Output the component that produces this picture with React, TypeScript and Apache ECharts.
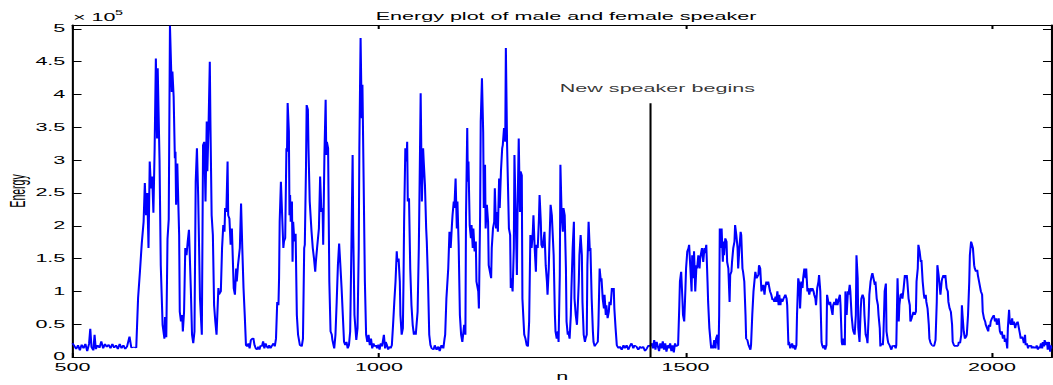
import React, { useEffect, useRef } from "react";
import * as echarts from "echarts";

// Frame energy per sample index n, in units of 1e5.
const maleSpeaker: [number, number][] = [
  [500, 0.21], [503, 0.17], [506, 0.12], [509, 0.18], [512, 0.1], [515, 0.19], [518, 0.13], [521, 0.2], [524, 0.09], [527, 0.2],
  [529, 0.43], [531, 0.15], [534, 0.1], [536, 0.34], [538, 0.12], [541, 0.18], [544, 0.14], [547, 0.24], [550, 0.13], [553, 0.2],
  [556, 0.15], [559, 0.19], [562, 0.13], [565, 0.2], [568, 0.14], [571, 0.18], [574, 0.12], [577, 0.2], [580, 0.13], [583, 0.18],
  [586, 0.12], [589, 0.16], [593, 0.31], [596, 0.14], [600, 0.15], [604, 0.14], [607, 0.9], [610, 1.3], [613, 1.73], [616, 2.06],
  [618, 2.65], [620, 2.16], [622, 2.5], [624, 1.66], [626, 2.98], [628, 2.57], [630, 2.75], [632, 2.2], [634, 3.18], [636, 4.55],
  [638, 3.33], [639, 4.4], [642, 3.0], [644, 1.4], [647, 0.49], [650, 0.28], [651, 0.61], [653, 0.3], [655, 1.8], [657, 2.1],
  [659, 5.05], [662, 4.04], [663, 4.35], [665, 3.97], [667, 3.03], [668, 3.13], [669, 2.32], [671, 2.95], [672, 2.57], [674, 1.86],
  [675, 0.69], [677, 0.54], [679, 0.64], [680, 0.39], [682, 0.69], [684, 1.66], [686, 1.55], [688, 1.76], [690, 1.94], [693, 1.05],
  [695, 0.34], [697, 0.21], [699, 0.39], [701, 2.67], [703, 3.18], [705, 2.47], [708, 0.89], [711, 0.34], [713, 3.23], [715, 3.28],
  [717, 2.37], [719, 3.59], [720, 2.83], [722, 3.54], [724, 4.5], [725, 3.59], [727, 2.16], [729, 1.86], [731, 0.79], [733, 0.54],
  [735, 0.34], [738, 1.05], [739, 0.95], [742, 1.0], [744, 1.66], [746, 2.01], [748, 1.91], [749, 2.27], [751, 2.21], [753, 2.98],
  [754, 2.16], [756, 2.11], [758, 1.71], [760, 1.96], [761, 1.66], [763, 1.05], [765, 0.95], [767, 1.35], [768, 1.15], [770, 1.4],
  [773, 1.66], [775, 2.34], [777, 1.66], [779, 1.05], [781, 0.64], [783, 0.18], [785, 0.16], [787, 0.21], [789, 0.13], [791, 0.26],
  [793, 0.28], [795, 0.29], [797, 0.18], [799, 0.13], [801, 0.11], [803, 0.16], [805, 0.11], [807, 0.18], [809, 0.16], [811, 0.24],
  [813, 0.13], [815, 0.21], [817, 0.16], [819, 0.13], [821, 0.18], [823, 0.13], [826, 0.18], [828, 0.21], [830, 0.16], [832, 0.28],
  [834, 0.84], [836, 0.79], [837, 1.2], [838, 2.06], [840, 2.67], [842, 2.67], [844, 1.66], [845, 1.76], [847, 1.81], [849, 3.18],
  [850, 3.13], [851, 3.87], [853, 3.44], [854, 2.16], [855, 2.47], [856, 2.06], [858, 2.37], [859, 1.45], [860, 2.06], [862, 1.76],
  [864, 1.88], [866, 0.64], [868, 0.34], [871, 0.18], [874, 0.16], [876, 0.28], [878, 1.66], [879, 1.71], [881, 2.93], [882, 3.84],
  [884, 3.77], [885, 3.18], [887, 2.37], [890, 1.91], [892, 1.66], [894, 1.5], [896, 1.3], [897, 1.45], [899, 1.66], [902, 1.96],
  [904, 2.75], [906, 2.21], [908, 2.27], [909, 1.71], [911, 3.08], [913, 3.92], [914, 3.08], [915, 3.28], [917, 3.18], [919, 1.15],
  [921, 0.39], [923, 0.34], [924, 0.26], [927, 0.13], [929, 0.34], [931, 0.84], [933, 1.4], [935, 1.73], [937, 1.4], [939, 1.05],
  [941, 0.64], [943, 0.23], [945, 0.18], [947, 0.23], [949, 0.13], [951, 0.18], [953, 0.39], [955, 1.66], [957, 3.08], [958, 1.91],
  [960, 0.64], [963, 0.26], [965, 0.44], [967, 1.66], [968, 3.18], [970, 4.86], [971, 4.2], [972, 3.64], [973, 4.15], [975, 2.67],
  [977, 1.15], [979, 0.34], [981, 0.23], [983, 0.34], [985, 0.18], [987, 0.28], [989, 0.13], [991, 0.21], [993, 0.16], [995, 0.18],
  [997, 0.13], [999, 0.19], [1001, 0.11], [1003, 0.21], [1005, 0.16], [1008, 0.34], [1010, 0.13], [1011, 0.23], [1013, 0.18], [1015, 0.11],
  [1017, 0.16], [1019, 0.13], [1021, 0.18], [1023, 0.49], [1025, 0.84], [1027, 1.15], [1029, 1.61], [1030, 1.45], [1032, 1.5], [1034, 1.15],
  [1035, 0.64], [1037, 0.34], [1039, 0.44], [1040, 1.15], [1041, 2.06], [1043, 3.18], [1045, 2.98], [1046, 3.28], [1047, 2.37], [1049, 2.42],
  [1051, 1.35], [1053, 0.79], [1055, 0.49], [1057, 0.34], [1059, 0.39], [1060, 0.34], [1063, 0.69], [1065, 1.66], [1067, 3.18], [1068, 4.02],
  [1070, 2.37], [1072, 3.18], [1073, 2.98], [1075, 2.62], [1077, 1.96], [1078, 1.76], [1080, 1.15], [1082, 0.34], [1084, 0.18], [1086, 0.13],
  [1089, 0.11], [1091, 0.18], [1094, 0.11], [1097, 0.16], [1099, 0.09], [1102, 0.18], [1105, 0.13], [1107, 0.28], [1108, 0.34], [1110, 0.89],
  [1113, 1.35], [1115, 1.91], [1117, 1.66], [1119, 2.01], [1120, 2.16], [1122, 2.37], [1123, 2.27], [1125, 2.72], [1127, 1.96], [1128, 2.37],
  [1130, 1.71], [1132, 0.64], [1134, 0.34], [1136, 0.23], [1139, 0.49], [1141, 0.34], [1142, 2.16], [1144, 3.49], [1145, 2.67], [1146, 2.98],
  [1148, 2.01], [1150, 1.81], [1151, 2.01], [1153, 1.66], [1154, 1.96], [1156, 1.61], [1158, 1.76], [1159, 1.15], [1162, 1.0], [1163, 0.74],
  [1165, 2.16], [1166, 3.59], [1168, 4.25], [1170, 3.43], [1171, 2.27], [1173, 2.93], [1174, 1.96], [1176, 2.32], [1178, 2.06], [1179, 1.4],
  [1181, 1.3], [1183, 1.2], [1184, 1.66], [1186, 1.96], [1188, 2.06], [1189, 2.57], [1191, 1.96], [1192, 2.21], [1194, 1.91], [1196, 2.72],
  [1197, 2.27], [1199, 2.83], [1201, 3.18], [1202, 3.23], [1204, 3.49], [1206, 3.28], [1207, 4.71], [1209, 3.23], [1210, 3.23], [1212, 1.96],
  [1214, 1.86], [1215, 1.05], [1216, 1.2], [1218, 1.0], [1220, 1.66], [1221, 3.08], [1223, 2.16], [1225, 1.25], [1226, 2.16], [1228, 3.33],
  [1230, 2.21], [1231, 2.83], [1233, 2.77], [1234, 0.89], [1237, 0.34], [1239, 0.28], [1241, 0.18], [1243, 0.16], [1245, 0.54], [1247, 1.86],
  [1249, 1.66], [1251, 1.91], [1252, 2.16], [1254, 1.66], [1256, 1.3], [1257, 1.71], [1259, 1.66], [1261, 2.11], [1262, 2.47], [1264, 2.06],
  [1265, 1.71], [1267, 1.66], [1269, 1.66], [1270, 1.91], [1272, 1.4], [1274, 1.15], [1275, 0.95], [1277, 1.35], [1278, 1.71], [1280, 2.32],
  [1282, 2.16], [1283, 1.96], [1285, 1.55], [1287, 0.64], [1288, 0.39], [1290, 0.28], [1292, 0.39], [1293, 0.23], [1295, 1.25], [1296, 2.93],
  [1298, 2.16], [1300, 1.91], [1301, 2.27], [1303, 2.16], [1305, 1.35], [1306, 0.54], [1308, 0.34], [1309, 0.39], [1311, 0.28], [1313, 0.64],
  [1314, 1.05], [1316, 1.66], [1318, 2.06], [1319, 0.89], [1321, 0.64], [1323, 0.49], [1324, 0.69], [1326, 1.15], [1327, 1.55], [1329, 1.86],
  [1331, 1.55], [1332, 0.84], [1334, 0.34], [1336, 0.23], [1337, 0.28], [1339, 0.34], [1340, 1.4], [1342, 2.06], [1344, 1.61], [1345, 1.66],
  [1347, 0.89], [1349, 0.39], [1350, 0.23], [1352, 0.16], [1353, 0.18], [1355, 0.18], [1357, 0.23], [1358, 0.49], [1360, 1.35], [1362, 1.15],
  [1363, 1.2], [1365, 0.89], [1367, 0.74], [1368, 0.95], [1370, 0.64], [1371, 0.79], [1373, 0.59], [1375, 0.69], [1376, 0.84], [1378, 0.79],
  [1380, 1.05], [1381, 1.0], [1383, 1.05], [1384, 0.74], [1386, 0.44], [1388, 0.18], [1389, 0.16], [1391, 0.13], [1393, 0.16], [1396, 0.11],
  [1399, 0.18], [1401, 0.13], [1404, 0.18], [1407, 0.11], [1409, 0.16], [1412, 0.21], [1415, 0.13], [1417, 0.18], [1420, 0.16], [1423, 0.11],
  [1426, 0.16], [1428, 0.13], [1431, 0.16], [1434, 0.09], [1437, 0.13], [1440, 0.18], [1442, 0.16],
];

const femaleSpeaker: [number, number][] = [
  [1445, 0.21], [1447, 0.13], [1449, 0.26], [1451, 0.11], [1453, 0.23], [1455, 0.16], [1457, 0.09], [1459, 0.21], [1461, 0.13], [1463, 0.24],
  [1465, 0.11], [1467, 0.21], [1469, 0.08], [1471, 0.18], [1473, 0.13], [1475, 0.21], [1477, 0.09], [1479, 0.18], [1481, 0.07], [1483, 0.21],
  [1485, 0.16], [1488, 0.18], [1490, 0.79], [1491, 1.15], [1493, 1.3], [1495, 0.89], [1496, 0.64], [1498, 0.54], [1500, 1.05], [1501, 1.35],
  [1503, 1.61], [1505, 1.66], [1506, 1.71], [1508, 1.71], [1510, 1.0], [1511, 1.55], [1513, 1.2], [1514, 1.61], [1516, 1.0], [1518, 1.4],
  [1519, 1.35], [1521, 1.55], [1523, 1.35], [1524, 1.5], [1526, 1.61], [1527, 1.66], [1529, 1.45], [1531, 1.66], [1532, 1.58], [1534, 1.71],
  [1536, 1.15], [1537, 0.84], [1539, 0.44], [1541, 0.23], [1542, 0.13], [1544, 0.18], [1545, 0.13], [1547, 0.26], [1549, 0.13], [1550, 0.28],
  [1552, 0.34], [1554, 0.11], [1555, 0.64], [1556, 1.96], [1558, 1.66], [1559, 1.96], [1561, 1.45], [1562, 1.76], [1563, 1.55], [1565, 1.81],
  [1567, 1.76], [1568, 1.45], [1570, 1.35], [1572, 0.84], [1573, 1.25], [1575, 1.3], [1576, 1.45], [1578, 1.66], [1580, 1.76], [1581, 2.01],
  [1583, 1.86], [1585, 1.66], [1586, 1.35], [1588, 1.66], [1590, 1.91], [1591, 1.86], [1593, 1.35], [1594, 1.3], [1596, 1.15], [1598, 0.64],
  [1599, 0.28], [1601, 0.26], [1603, 0.18], [1604, 0.18], [1606, 0.11], [1607, 0.18], [1609, 0.64], [1611, 1.0], [1612, 1.0], [1614, 1.3],
  [1616, 1.2], [1617, 1.2], [1619, 1.25], [1620, 1.4], [1622, 1.35], [1624, 1.0], [1625, 1.05], [1627, 1.1], [1629, 0.95], [1630, 1.05],
  [1632, 1.15], [1634, 1.1], [1635, 1.15], [1637, 1.05], [1638, 1.0], [1640, 0.95], [1642, 0.87], [1643, 0.89], [1645, 0.84], [1647, 0.92],
  [1648, 0.84], [1650, 1.0], [1652, 0.79], [1653, 0.95], [1655, 0.79], [1656, 0.89], [1658, 0.84], [1660, 0.89], [1661, 0.89], [1663, 0.95],
  [1665, 0.89], [1666, 0.79], [1668, 0.18], [1669, 0.23], [1671, 0.13], [1673, 0.18], [1674, 0.21], [1676, 0.13], [1678, 0.18], [1679, 0.11],
  [1681, 0.18], [1682, 0.64], [1684, 1.2], [1686, 1.1], [1687, 0.74], [1689, 1.15], [1691, 1.05], [1692, 1.2], [1694, 1.35], [1696, 1.2],
  [1697, 1.35], [1699, 1.0], [1700, 1.05], [1702, 0.95], [1704, 1.05], [1705, 1.0], [1707, 1.05], [1709, 1.0], [1710, 0.95], [1712, 0.89],
  [1713, 0.79], [1715, 1.05], [1717, 1.15], [1718, 1.25], [1720, 1.0], [1722, 0.23], [1723, 0.18], [1725, 0.13], [1727, 0.18], [1728, 0.11],
  [1730, 0.18], [1731, 0.95], [1733, 0.84], [1735, 0.79], [1736, 0.84], [1738, 0.74], [1740, 0.64], [1741, 0.79], [1743, 0.84], [1745, 0.79],
  [1746, 0.89], [1748, 0.79], [1749, 0.84], [1752, 0.95], [1753, 0.79], [1755, 0.23], [1756, 0.18], [1758, 0.28], [1760, 0.18], [1761, 1.0],
  [1763, 0.64], [1765, 1.0], [1766, 0.95], [1768, 1.1], [1769, 1.0], [1771, 0.64], [1773, 0.44], [1774, 0.39], [1776, 0.34], [1778, 0.64],
  [1779, 1.55], [1781, 1.2], [1782, 0.44], [1784, 0.23], [1786, 0.74], [1787, 0.89], [1789, 0.95], [1791, 0.89], [1792, 0.64], [1794, 0.34],
  [1796, 0.28], [1797, 0.21], [1799, 0.64], [1800, 0.95], [1802, 1.15], [1804, 1.25], [1805, 1.28], [1807, 1.28], [1809, 1.1], [1810, 1.15],
  [1812, 0.89], [1814, 0.79], [1815, 0.64], [1817, 0.44], [1818, 0.16], [1820, 0.21], [1822, 0.18], [1823, 0.34], [1825, 1.0], [1827, 1.12],
  [1828, 0.39], [1830, 0.26], [1831, 0.21], [1833, 0.18], [1835, 0.13], [1836, 0.11], [1838, 0.18], [1840, 0.16], [1841, 0.18], [1843, 0.13],
  [1844, 0.18], [1846, 1.2], [1848, 0.54], [1849, 0.79], [1851, 0.95], [1853, 0.97], [1854, 0.89], [1856, 1.05], [1858, 1.25], [1859, 1.2],
  [1861, 1.25], [1862, 1.15], [1864, 0.89], [1866, 0.79], [1867, 0.54], [1869, 0.59], [1871, 0.59], [1872, 0.69], [1874, 0.64], [1876, 0.69],
  [1877, 1.15], [1879, 1.35], [1880, 1.71], [1882, 1.61], [1884, 1.45], [1885, 1.48], [1887, 1.15], [1889, 0.95], [1890, 0.89], [1892, 0.95],
  [1893, 0.84], [1895, 0.74], [1897, 0.49], [1898, 0.28], [1900, 0.21], [1902, 0.18], [1903, 0.18], [1905, 0.16], [1906, 0.18], [1908, 0.26],
  [1910, 0.84], [1911, 1.4], [1913, 1.25], [1915, 1.05], [1916, 0.95], [1918, 1.15], [1919, 1.2], [1921, 1.25], [1923, 1.2], [1924, 1.25],
  [1926, 1.05], [1928, 1.0], [1929, 0.84], [1931, 0.74], [1933, 0.69], [1935, 0.49], [1936, 0.23], [1938, 0.18], [1940, 0.16], [1941, 0.18],
  [1943, 0.16], [1945, 0.18], [1946, 0.23], [1948, 0.21], [1950, 0.34], [1951, 0.79], [1952, 0.64], [1953, 0.64], [1954, 0.39], [1956, 0.28],
  [1958, 0.31], [1959, 0.34], [1961, 0.64], [1963, 1.15], [1964, 1.55], [1966, 1.76], [1967, 1.73], [1969, 1.66], [1971, 1.4], [1972, 1.35],
  [1974, 1.3], [1976, 1.33], [1977, 1.25], [1979, 1.15], [1981, 1.05], [1982, 1.0], [1984, 0.95], [1985, 0.69], [1987, 0.59], [1989, 0.54],
  [1990, 0.49], [1992, 0.44], [1994, 0.39], [1995, 0.49], [1997, 0.46], [1998, 0.54], [2000, 0.59], [2002, 0.59], [2003, 0.64], [2005, 0.54],
  [2007, 0.59], [2008, 0.49], [2010, 0.51], [2011, 0.59], [2013, 0.39], [2015, 0.34], [2016, 0.39], [2018, 0.28], [2020, 0.34], [2021, 0.23],
  [2023, 0.28], [2025, 0.13], [2026, 0.44], [2028, 0.72], [2029, 0.54], [2031, 0.49], [2033, 0.59], [2034, 0.49], [2036, 0.54], [2038, 0.44],
  [2039, 0.49], [2041, 0.49], [2042, 0.54], [2044, 0.44], [2046, 0.34], [2047, 0.28], [2049, 0.31], [2051, 0.26], [2052, 0.21], [2054, 0.34],
  [2055, 0.18], [2057, 0.21], [2059, 0.13], [2060, 0.18], [2062, 0.16], [2064, 0.18], [2065, 0.13], [2067, 0.16], [2069, 0.13], [2070, 0.16],
  [2072, 0.13], [2073, 0.18], [2075, 0.11], [2077, 0.16], [2078, 0.13], [2080, 0.21], [2082, 0.13], [2083, 0.23], [2085, 0.16], [2086, 0.26],
  [2088, 0.18], [2090, 0.23], [2091, 0.11], [2093, 0.23], [2095, 0.08], [2096, 0.18], [2097, 0.13],
];

// Axis ranges (n in samples, energy in units of 1e5)
const nRange = { min: 500, max: 2098, step: 500 };
const energyRange = { min: 0, max: 5.06, step: 0.5 };

// Speaker change marker and its caption
const speakerChange = { n: 1443, top: 3.867 };
const caption = { n: 1295, energy: 4.085, text: "New speaker begins" };

const TITLE = "Energy plot of male and female speaker";

// The figure is drawn at half width and stretched horizontally,
// which widens glyphs and vertical strokes the same way as the original export.
const PAGE_W = 1053;
const CHART_W = 513;
const CHART_H = 385;
const STRETCH = PAGE_W / CHART_W;
const px = (screenX: number) => screenX / STRETCH;

const FONT = '"Liberation Sans", Arial, Helvetica, sans-serif';
const FS = 10.5;

export default function App() {
  const ref = useRef<HTMLDivElement>(null);

  useEffect(() => {
    const el = ref.current;
    if (!el) return;
    const chart = echarts.init(el, null, { renderer: "svg", width: CHART_W, height: CHART_H });

    const baseText = { color: "#000", fontFamily: FONT, fontSize: FS };
    const frameLine = { show: true, lineStyle: { color: "#000", width: 1 } };

    const xCommon = {
      type: "value" as const,
      min: nRange.min,
      max: nRange.max,
      interval: nRange.step,
      axisLine: { ...frameLine, onZero: false },
      axisTick: { show: true, inside: true, length: 4, lineStyle: { color: "#000", width: 1 } },
      splitLine: { show: false },
    };
    const yCommon = {
      type: "value" as const,
      min: energyRange.min,
      max: energyRange.max,
      interval: energyRange.step,
      axisLine: { ...frameLine, onZero: false },
      axisTick: { show: true, inside: true, length: 4.4, lineStyle: { color: "#000", width: 1 } },
      splitLine: { show: false },
    };

    chart.setOption({
      animation: false,
      backgroundColor: "#fff",
      title: {
        text: TITLE,
        left: px(566),
        top: 11,
        textAlign: "center",
        padding: 0,
        textStyle: { ...baseText, fontWeight: "normal" },
      },
      grid: {
        left: px(72.5),
        right: px(1),
        top: 25,
        bottom: 28,
        containLabel: false,
        outerBoundsMode: "none",
      },
      xAxis: [
        {
          ...xCommon,
          position: "bottom",
          name: "n",
          nameLocation: "middle",
          nameGap: 14,
          nameMoveOverlap: false,
          nameTextStyle: { ...baseText },
          axisLabel: {
            ...baseText,
            margin: 5,
            showMinLabel: true,
            showMaxLabel: false,
            formatter: (v: number) => String(v),
          },
        },
        {
          ...xCommon,
          position: "top",
          axisLabel: { show: false },
        },
      ],
      yAxis: [
        {
          ...yCommon,
          position: "left",
          name: "Energy",
          nameLocation: "middle",
          nameGap: 21,
          nameMoveOverlap: false,
          nameTextStyle: { ...baseText },
          axisLabel: {
            ...baseText,
            margin: 3.5,
            showMaxLabel: false,
            formatter: (v: number) => String(v),
          },
        },
        {
          ...yCommon,
          position: "right",
          axisLabel: { show: false },
        },
      ],
      graphic: [
        {
          type: "text",
          left: px(73),
          top: 12.5,
          silent: true,
          style: { text: "× 10", fill: "#000", fontFamily: FONT, fontSize: FS },
        },
        {
          type: "text",
          left: px(115),
          top: 9.5,
          silent: true,
          style: { text: "5", fill: "#000", fontFamily: FONT, fontSize: 7 },
        },
      ],
      series: [
        {
          name: "Energy",
          type: "line",
          data: [...maleSpeaker, ...femaleSpeaker],
          showSymbol: false,
          symbol: "none",
          silent: true,
          clip: true,
          lineStyle: { color: "#0000ff", width: 1 },
        },
        {
          name: "Speaker change",
          type: "line",
          data: [
            [speakerChange.n, energyRange.min],
            [speakerChange.n, speakerChange.top],
          ],
          showSymbol: false,
          symbol: "none",
          silent: true,
          lineStyle: { color: "#000", width: 1 },
        },
        {
          name: "Caption",
          type: "scatter",
          data: [[caption.n, caption.energy]],
          symbolSize: 0,
          silent: true,
          label: {
            show: true,
            formatter: caption.text,
            position: [0, 0],
            align: "left",
            verticalAlign: "middle",
            ...baseText,
          },
        },
      ],
    });

    return () => chart.dispose();
  }, []);

  return (
    <div
      ref={ref}
      style={{
        position: "absolute",
        left: 0,
        top: 0,
        width: CHART_W,
        height: CHART_H,
        transform: `scaleX(${STRETCH})`,
        transformOrigin: "0 0",
        background: "#fff",
      }}
    />
  );
}
